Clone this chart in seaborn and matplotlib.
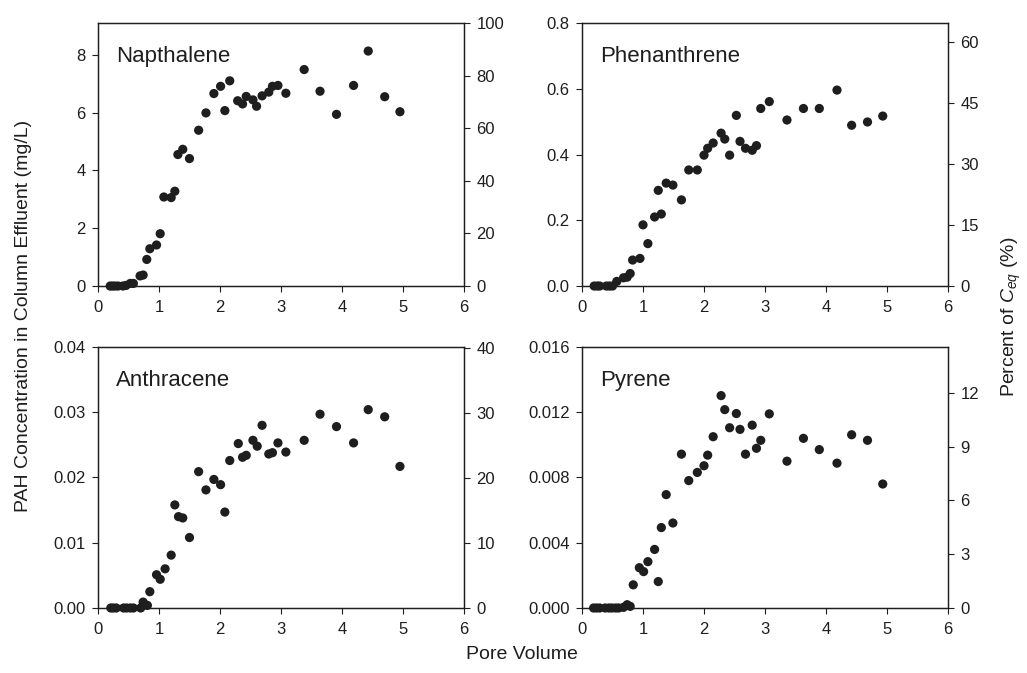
import matplotlib
matplotlib.use("Agg")
import matplotlib.pyplot as plt
import seaborn as sns
from matplotlib.ticker import FormatStrFormatter

# Data (pore volume vs concentration, mg/L)
napth_pv = [0.20, 0.24, 0.28, 0.33, 0.41, 0.46, 0.53, 0.58, 0.69, 0.74, 0.80, 0.85, 0.96, 1.02,
            1.08, 1.20, 1.26, 1.31, 1.39, 1.50, 1.65, 1.77, 1.90, 2.01, 2.08, 2.16, 2.29, 2.37,
            2.43, 2.54, 2.60, 2.69, 2.80, 2.86, 2.95, 3.08, 3.38, 3.64, 3.91, 4.19, 4.43, 4.70, 4.95]
napth_c = [0.0, 0.0, 0.0, 0.0, 0.0, 0.02, 0.09, 0.09, 0.35, 0.38, 0.92, 1.29, 1.42, 1.81,
           3.08, 3.06, 3.28, 4.55, 4.73, 4.41, 5.39, 5.99, 6.66, 6.91, 6.07, 7.10, 6.41, 6.30,
           6.56, 6.44, 6.22, 6.58, 6.71, 6.91, 6.94, 6.67, 7.49, 6.74, 5.94, 6.94, 8.13, 6.55, 6.03]

phen_pv = [0.20, 0.25, 0.29, 0.40, 0.45, 0.50, 0.57, 0.68, 0.74, 0.79, 0.83, 0.95, 1.00, 1.08,
           1.19, 1.25, 1.30, 1.38, 1.49, 1.63, 1.75, 1.89, 2.00, 2.06, 2.15, 2.28, 2.34, 2.42,
           2.53, 2.59, 2.68, 2.79, 2.86, 2.93, 3.07, 3.36, 3.63, 3.89, 4.18, 4.42, 4.68, 4.93]
phen_c = [0.0, 0.0, 0.0, 0.0, 0.0, 0.0, 0.014, 0.025, 0.027, 0.038, 0.079, 0.084, 0.186, 0.129,
          0.210, 0.291, 0.219, 0.313, 0.307, 0.262, 0.353, 0.353, 0.398, 0.419, 0.435, 0.465, 0.447, 0.398,
          0.519, 0.440, 0.419, 0.413, 0.427, 0.540, 0.561, 0.505, 0.540, 0.540, 0.596, 0.489, 0.499, 0.517]

anth_pv = [0.21, 0.25, 0.30, 0.42, 0.47, 0.53, 0.58, 0.70, 0.74, 0.77, 0.81, 0.85, 0.96, 1.02,
           1.10, 1.20, 1.26, 1.32, 1.39, 1.50, 1.65, 1.77, 1.90, 2.01, 2.08, 2.16, 2.30, 2.37,
           2.43, 2.54, 2.61, 2.69, 2.80, 2.86, 2.95, 3.08, 3.38, 3.64, 3.91, 4.19, 4.43, 4.70, 4.95]
anth_c = [0.0, 0.0, 0.0, 0.0, 0.0, 0.0, 0.0, 0.0, 0.0009, 0.0005, 0.0004, 0.0025, 0.0051, 0.0044,
          0.0060, 0.0081, 0.0158, 0.0140, 0.0138, 0.0108, 0.0209, 0.0181, 0.0197, 0.0189, 0.0147, 0.0226, 0.0252, 0.0231,
          0.0234, 0.0257, 0.0248, 0.0280, 0.0236, 0.0238, 0.0253, 0.0239, 0.0257, 0.0297, 0.0278, 0.0253, 0.0304, 0.0293, 0.0217]

pyr_pv = [0.19, 0.24, 0.29, 0.38, 0.44, 0.49, 0.55, 0.60, 0.68, 0.74, 0.79, 0.84, 0.94, 1.01,
          1.08, 1.19, 1.25, 1.30, 1.38, 1.49, 1.63, 1.75, 1.89, 2.00, 2.06, 2.15, 2.28, 2.34,
          2.42, 2.53, 2.59, 2.68, 2.79, 2.86, 2.93, 3.07, 3.36, 3.63, 3.89, 4.18, 4.42, 4.68, 4.93]
pyr_c = [0.0, 0.0, 0.0, 0.0, 0.0, 0.0, 0.0, 0.0, 0.00004, 0.0002, 0.0001, 0.00142, 0.00247, 0.00223,
         0.00284, 0.00359, 0.00162, 0.00493, 0.00695, 0.00521, 0.00943, 0.00781, 0.00831, 0.00872, 0.00937, 0.01050, 0.01302, 0.01216,
         0.01105, 0.01192, 0.01095, 0.00943, 0.01121, 0.00979, 0.01028, 0.01190, 0.00900, 0.01040, 0.00971, 0.00888, 0.01062, 0.01028, 0.0076]

names = ["Napthalene", "Phenanthrene", "Anthracene", "Pyrene"]
pore_volumes = [napth_pv, phen_pv, anth_pv, pyr_pv]
concs = [napth_c, phen_c, anth_c, pyr_c]

left_ticks = [[0, 2, 4, 6, 8], [0.0, 0.2, 0.4, 0.6, 0.8],
              [0.00, 0.01, 0.02, 0.03, 0.04], [0.000, 0.004, 0.008, 0.012, 0.016]]
left_top = [9.1, 0.8, 0.04, 0.016]
left_fmt = ["%d", "%.1f", "%.2f", "%.3f"]
right_ticks = [[0, 20, 40, 60, 80, 100], [0, 15, 30, 45, 60], [0, 10, 20, 30, 40], [0, 3, 6, 9, 12]]
right_top = [100, 64.8, 40.2, 14.55]

sns.set_style("ticks")
plt.rcParams["font.family"] = ["Liberation Sans", "DejaVu Sans"]
plt.rcParams["mathtext.fontset"] = "custom"
plt.rcParams["mathtext.rm"] = "Liberation Sans"
plt.rcParams["mathtext.it"] = "Liberation Sans:italic"

ink = "#1e1e1e"

fig = plt.figure(figsize=(10.27, 6.73), dpi=100)
positions = [[0.0954, 0.575, 0.3564, 0.3908], [0.5667, 0.575, 0.3564, 0.3908],
             [0.0954, 0.0966, 0.3564, 0.3878], [0.5667, 0.0966, 0.3564, 0.3878]]

for i in range(4):
    ax = fig.add_axes(positions[i])
    sns.scatterplot(x=pore_volumes[i], y=concs[i], ax=ax, color=ink,
                    s=44, edgecolor="none", zorder=3, clip_on=False)
    ax.set_xlim(0, 6)
    ax.set_ylim(0, left_top[i])
    ax.set_xticks(range(7))
    ax.set_yticks(left_ticks[i])
    ax.yaxis.set_major_formatter(FormatStrFormatter(left_fmt[i]))
    ax.tick_params(direction="out", length=4, width=0.8, labelsize=12, colors=ink)
    ax.tick_params(axis="x", pad=6)
    ax.tick_params(axis="y", pad=5)
    for sp in ax.spines.values():
        sp.set_visible(True)
        sp.set_linewidth(0.9)
        sp.set_color(ink)
    ax.text(0.05, 0.85, names[i], transform=ax.transAxes, fontsize=16,
            color=ink, va="baseline", ha="left")

    ax2 = ax.twinx()
    ax2.set_ylim(0, right_top[i])
    ax2.set_yticks(right_ticks[i])
    ax2.tick_params(direction="out", length=4, width=0.8, labelsize=12, colors=ink, pad=5)
    for sp in ax2.spines.values():
        sp.set_linewidth(0.9)
        sp.set_color(ink)

fig.text(0.023, 0.53, "PAH Concentration in Column Effluent (mg/L)", rotation=90,
         ha="center", va="center", fontsize=14, color=ink)
fig.text(0.508, 0.027, "Pore Volume", ha="center", va="center", fontsize=14, color=ink)
fig.text(0.985, 0.53, "Percent of $C_{eq}$ (%)", rotation=90,
         ha="center", va="center", fontsize=14, color=ink)

fig.savefig("out.png", dpi=100)
